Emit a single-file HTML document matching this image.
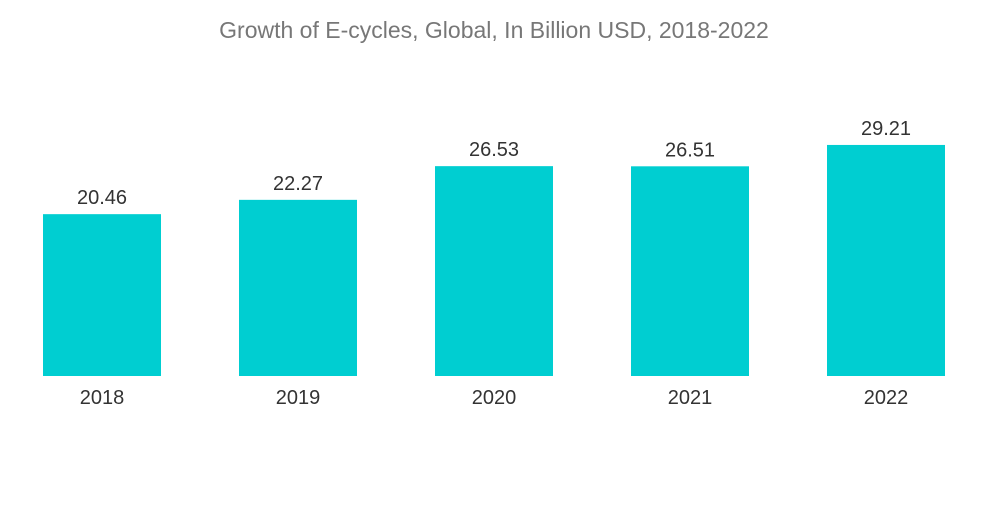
<!DOCTYPE html>
<html><head><meta charset="utf-8"><style>
body{margin:0;background:#fff;width:1000px;height:504px;overflow:hidden;font-family:"Liberation Sans",sans-serif}
</style></head><body>
<svg id="chart" width="1000" height="504" xmlns="http://www.w3.org/2000/svg">
<text x="494" y="38" text-anchor="middle" font-size="23" fill="#777" font-family="Liberation Sans, sans-serif">Growth of E-cycles, Global, In Billion USD, 2018-2022</text>
<g id="bars"></g>
</svg>
<script>
const categories = ["2018","2019","2020","2021","2022"];
const values = [20.46,22.27,26.53,26.51,29.21];
const valueLabels = ["20.46","22.27","26.53","26.51","29.21"];
const svg = document.getElementById('bars');
const NS = "http://www.w3.org/2000/svg";
const baseY = 376, pxPerUnit = 7.91, x0 = 43, step = 196, bw = 118;
function xPos(i){return x0 + i*step;}
function yPos(v){return baseY - v*pxPerUnit;}
categories.forEach((c,i)=>{
  const r=document.createElementNS(NS,'rect');
  
  
  r.setAttribute('x',xPos(i));r.setAttribute('y',yPos(values[i]));
  r.setAttribute('width',bw);r.setAttribute('height',baseY-yPos(values[i]));
  r.setAttribute('fill','#00ced1');
  svg.appendChild(r);
  const t=document.createElementNS(NS,'text');
  
  
  t.setAttribute('x',xPos(i)+bw/2);t.setAttribute('y',yPos(values[i])-10);
  t.setAttribute('text-anchor','middle');t.setAttribute('font-size','20');t.setAttribute('fill','#333');
  t.textContent=valueLabels[i];
  svg.appendChild(t);
  const l=document.createElementNS(NS,'text');
  
  
  l.setAttribute('x',xPos(i)+bw/2);l.setAttribute('y',404);
  l.setAttribute('text-anchor','middle');l.setAttribute('font-size','20');l.setAttribute('fill','#333');
  l.textContent=c;
  svg.appendChild(l);
});
</script>
</body></html>
